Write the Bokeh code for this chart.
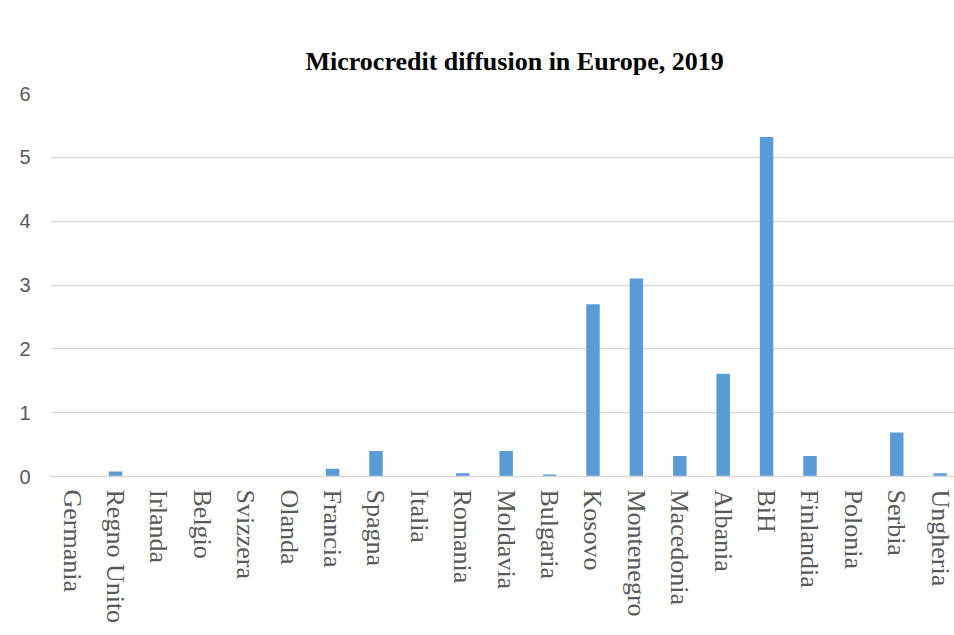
import math
from bokeh.plotting import figure
from bokeh.models import ColumnDataSource, Range1d, FixedTicker, LinearAxis
from bokeh.embed import file_html
from bokeh.resources import INLINE

countries = ["Germania", "Regno Unito", "Irlanda", "Belgio", "Svizzera", "Olanda",
             "Francia", "Spagna", "Italia", "Romania", "Moldavia", "Bulgaria",
             "Kosovo", "Montenegro", "Macedonia", "Albania", "BiH", "Finlandia",
             "Polonia", "Serbia", "Ungheria"]
values = [0, 0.08, 0, 0, 0, 0, 0.12, 0.40, 0, 0.05, 0.40, 0.03,
          2.70, 3.10, 0.32, 1.61, 5.32, 0.32, 0, 0.69, 0.05]
y_ticks = [0, 1, 2, 3, 4, 5, 6]
title_text = "Microcredit diffusion in Europe, 2019"

positions = list(range(len(countries)))
src = ColumnDataSource(dict(x=positions, top=values))

p = figure(width=954, height=635,
           x_range=Range1d(-0.5, 20.33), y_range=Range1d(0, 6),
           output_backend="svg", toolbar_location=None,
           min_border_left=50, min_border_right=0,
           min_border_top=93, min_border_bottom=159,
           background_fill_color="white", border_fill_color="white",
           outline_line_color=None)

p.vbar(x="x", top="top", width=0.31, bottom=0, source=src,
       fill_color="#5b9bd5", line_color=None)

p.title.text = title_text
p.title.text_font = "Liberation Serif"
p.title.text_font_style = "bold"
p.title.text_font_size = "26px"
p.title.text_color = "#000000"
p.title.align = "left"
p.title.offset = 255
p.title.standoff = 35

p.xgrid.visible = False
p.ygrid.grid_line_color = "#d9d9d9"
p.ygrid.grid_line_width = 1.3

p.yaxis.ticker = FixedTicker(ticks=y_ticks)
p.yaxis.axis_line_color = None
p.yaxis.major_tick_line_color = None
p.yaxis.minor_tick_line_color = None
p.yaxis.major_label_standoff = 14
p.yaxis.major_label_text_font = "Liberation Sans"
p.yaxis.major_label_text_font_size = "20px"
p.yaxis.major_label_text_color = "#595959"

p.xaxis.ticker = FixedTicker(ticks=positions)
p.xaxis.major_label_overrides = {i: c for i, c in zip(positions, countries)}
p.xaxis.major_label_orientation = -math.pi / 2
p.xaxis.axis_line_color = "#d9d9d9"
p.xaxis.axis_line_width = 1.3
p.xaxis.major_tick_line_color = None
p.xaxis.minor_tick_line_color = None
p.xaxis.major_label_standoff = 7
p.xaxis.major_label_text_font = "Liberation Serif"
p.xaxis.major_label_text_font_size = "26px"
p.xaxis.major_label_text_color = "#595959"

# thin chart-area border on the far left
p.extra_y_ranges = {"border": Range1d(0, 1)}
border_axis = LinearAxis(y_range_name="border", fixed_location=-1.4677,
                         bounds=(-0.415, 1.206), ticker=FixedTicker(ticks=[]),
                         major_label_text_font_size="0px",
                         axis_line_color="#d9d9d9", axis_line_width=1,
                         major_tick_line_color=None, minor_tick_line_color=None)
p.add_layout(border_axis, "left")

open("out.html", "w").write(file_html(p, INLINE))
